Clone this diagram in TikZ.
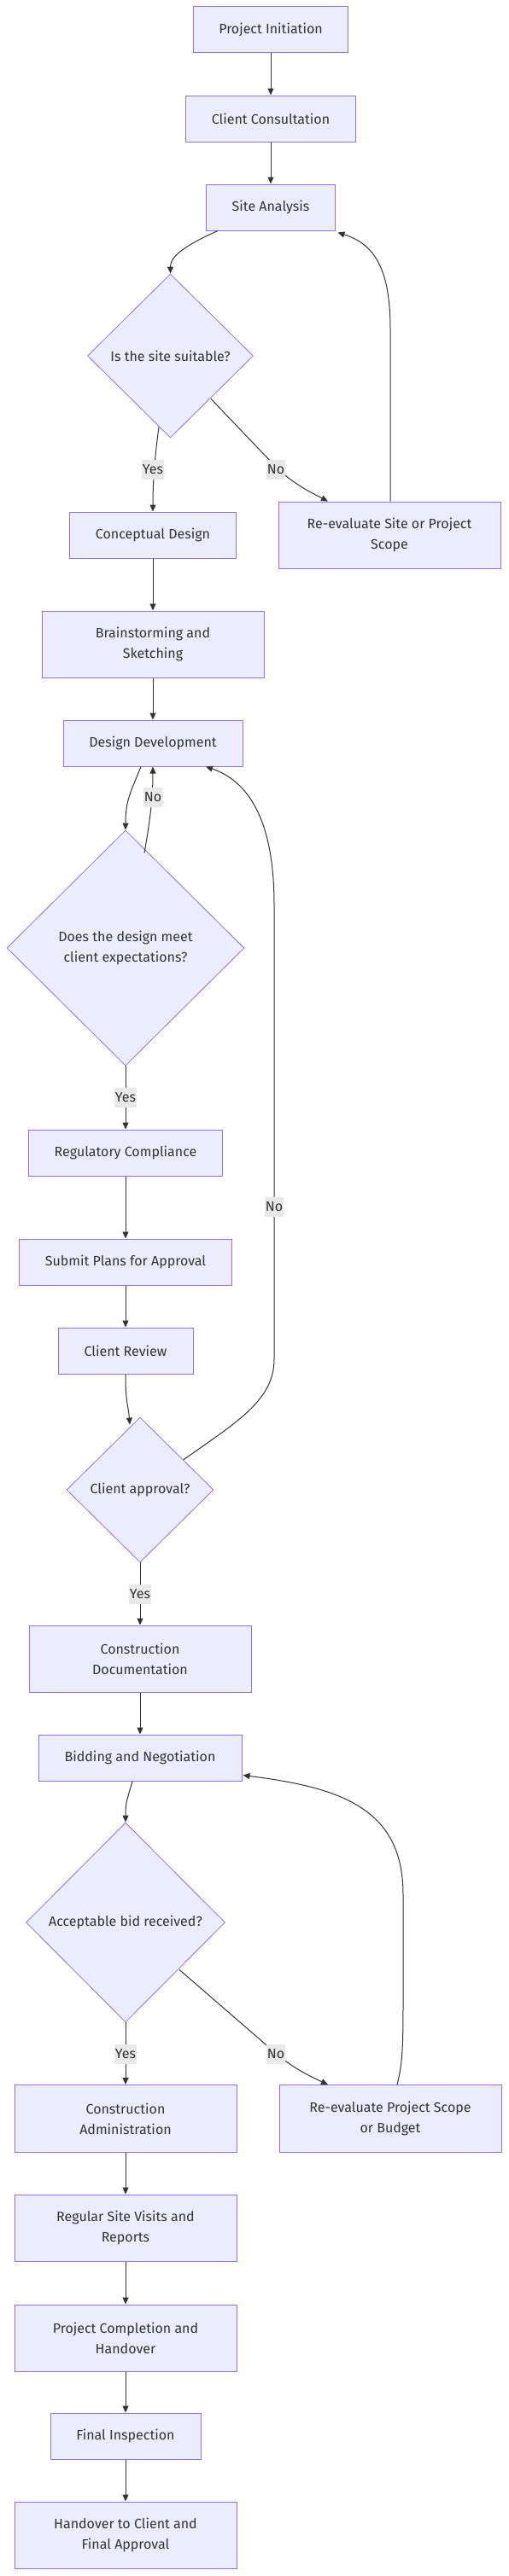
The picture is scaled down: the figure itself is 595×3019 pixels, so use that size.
\documentclass[tikz,border=0pt]{standalone}
\usepackage{fontspec}
\setmainfont{Fira Sans}
\usetikzlibrary{arrows.meta,shapes.geometric}
\definecolor{nodefill}{HTML}{ECECFF}
\definecolor{nodeline}{HTML}{9370DB}
\definecolor{edgecol}{HTML}{333333}
\definecolor{lblfill}{HTML}{E8E8E8}
\tikzset{
  box/.style={draw=nodeline, fill=nodefill, line width=1pt, text=edgecol, align=center, inner sep=0pt, font=\fontsize{16}{24}\selectfont},
  dec/.style={diamond, draw=nodeline, fill=nodefill, line width=0.8pt, text=edgecol, align=center, inner sep=0pt, font=\fontsize{16}{24}\selectfont},
  link/.style={draw=edgecol, line width=1pt, -{Triangle[length=8pt,width=7pt]}},
  lbl/.style={fill=lblfill, text=edgecol, inner xsep=0.5pt, inner ysep=0pt, minimum height=23pt, font=\fontsize{16}{20}\selectfont}
}
\begin{document}
\begin{tikzpicture}[x=1pt,y=-1pt]
\useasboundingbox (0,0) rectangle (595,3019);
% nodes
\node[box, minimum width=181pt, minimum height=54pt] (init) at (317,35) {Project Initiation};
\node[box, minimum width=199pt, minimum height=54pt] (consult) at (317,139) {Client Consultation};
\node[box, minimum width=151pt, minimum height=54pt] (site) at (317,243) {Site Analysis};
\node[dec, minimum width=194pt, minimum height=192pt] (suit) at (199.5,417) {Is the site suitable?};
\node[box, minimum width=260pt, minimum height=78pt] (reevalA) at (456,627) {Re-evaluate Site or Project\\Scope};
\node[box, minimum width=195pt, minimum height=54pt] (concept) at (179,627) {Conceptual Design};
\node[box, minimum width=260pt, minimum height=78pt] (brain) at (179,755) {Brainstorming and\\Sketching};
\node[box, minimum width=210pt, minimum height=54pt] (dd) at (179,871) {Design Development};
\node[dec, minimum width=278pt, minimum height=276pt] (meet) at (147,1111) {Does the design meet\\client expectations?};
\node[box, minimum width=227pt, minimum height=54pt] (reg) at (147,1351) {Regulatory Compliance};
\node[box, minimum width=249pt, minimum height=54pt] (submit) at (147,1479) {Submit Plans for Approval};
\node[box, minimum width=158pt, minimum height=54pt] (review) at (147,1583) {Client Review};
\node[dec, minimum width=172pt, minimum height=170pt] (approval) at (164,1746) {Client approval?};
\node[box, minimum width=260pt, minimum height=78pt] (cdoc) at (164,1944) {Construction\\Documentation};
\node[box, minimum width=238pt, minimum height=54pt] (bid) at (164,2060) {Bidding and Negotiation};
\node[dec, minimum width=233pt, minimum height=234pt] (accept) at (147,2253) {Acceptable bid received?};
\node[box, minimum width=260pt, minimum height=79pt] (cadmin) at (147,2483) {Construction\\Administration};
\node[box, minimum width=260pt, minimum height=79pt] (reevalB) at (457,2483) {Re-evaluate Project Scope\\or Budget};
\node[box, minimum width=260pt, minimum height=78pt] (visits) at (147,2611) {Regular Site Visits and\\Reports};
\node[box, minimum width=260pt, minimum height=78pt] (complete) at (147,2740) {Project Completion and\\Handover};
\node[box, minimum width=176pt, minimum height=54pt] (final) at (147,2855) {Final Inspection};
\node[box, minimum width=260pt, minimum height=78pt] (handover) at (147,2971) {Handover to Client and\\Final Approval};
% connectors
\draw[link] (init) -- (consult);
\draw[link] (consult) -- (site);
\draw[link] ([shift={(-62,0)}]site.south) .. controls +(-45,20) and +(0,-18) .. (suit.north);
\draw[link] ([shift={(-13.5,-13)}]suit.south) .. controls +(-4,30) and +(0,-40) .. (concept.north);
\draw[link] ([shift={(47.5,-46)}]suit.south) -- (320,544) .. controls (340,565) and (360,575) .. ([shift={(-72,0)}]reevalA.north);
\draw[link] ([shift={(1,0)}]reevalA.north) -- (457,385) .. controls (457,310) and (435,285) .. ([shift={(2.5,2)}]site.south east);
\draw[link] (concept) -- (brain);
\draw[link] (brain) -- (dd);
\draw[link] ([shift={(-14,0)}]dd.south) .. controls +(-12,30) and +(0,-35) .. (meet.north);
\draw[link] ([shift={(22,27)}]meet.north) .. controls (176,960) and (179,935) .. (dd.south);
\draw[link] (meet) -- (reg);
\draw[link] (reg) -- (submit);
\draw[link] (submit) -- (review);
\draw[link] (review.south) .. controls +(0,35) and +(-2,-25) .. ([shift={(-12,9)}]approval.north);
\draw[link] ([shift={(51,50)}]approval.north) .. controls (280,1665) and (321,1640) .. (321,1593) -- (321,1060) .. controls (321,960) and (290,915) .. ([shift={(62,0)}]dd.south);
\draw[link] (approval) -- (cdoc);
\draw[link] (cdoc) -- (bid);
\draw[link] ([shift={(-9,0)}]bid.south) .. controls +(-6,22) and +(0,-25) .. (accept.north);
\draw[link] (accept) -- (cadmin);
\draw[link] ([shift={(63,-62)}]accept.south) -- (318,2402) .. controls (340,2422) and (360,2432) .. ([shift={(-73,0)}]reevalB.north);
\draw[link] ([shift={(8,0)}]reevalB.north) .. controls (471,2420) and (472,2400) .. (472,2350) -- (472,2220) .. controls (472,2120) and (400,2095) .. ([shift={(1,-7)}]bid.south east);
\draw[link] (cadmin) -- (visits);
\draw[link] (visits) -- (complete);
\draw[link] (complete) -- (final);
\draw[link] (final) -- (handover);
% labels
\node[lbl] (l1) at (179,550) {Yes};
\node[lbl] (l2) at (323,550) {No};
\node[lbl] (l3) at (179,934) {No};
\node[lbl] (l4) at (147,1286) {Yes};
\node[lbl] (l5) at (321,1414) {No};
\node[lbl] (l6) at (164,1868) {Yes};
\node[lbl] (l7) at (147,2407) {Yes};
\node[lbl] (l8) at (323,2407) {No};
\end{tikzpicture}
\end{document}
